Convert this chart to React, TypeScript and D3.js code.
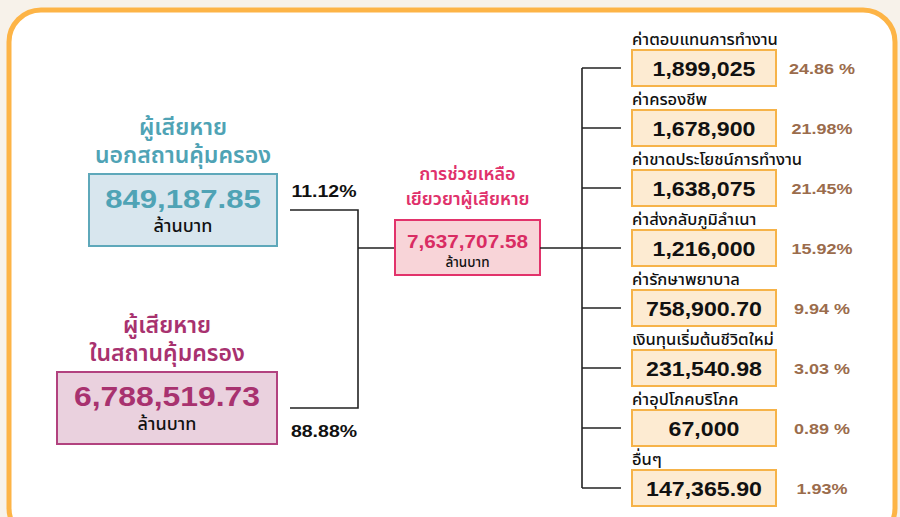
import React, { useEffect, useRef } from "react";
import * as d3 from "d3";

// source groups (left)
const sourceTitles = [["ผู้เสียหาย", "นอกสถานคุ้มครอง"], ["ผู้เสียหาย", "ในสถานคุ้มครอง"]];
const sourceValues = ["849,187.85", "6,788,519.73"];
const sourcePercents = ["11.12%", "88.88%"];

// total (middle)
const totalTitle = ["การช่วยเหลือ", "เยียวยาผู้เสียหาย"];
const totalValue = "7,637,707.58";
const unit = "ล้านบาท";

// expense items (right)
const itemLabels = [
  "ค่าตอบแทนการทำงาน",
  "ค่าครองชีพ",
  "ค่าขาดประโยชน์การทำงาน",
  "ค่าส่งกลับภูมิลำเนา",
  "ค่ารักษาพยาบาล",
  "เงินทุนเริ่มต้นชีวิตใหม่",
  "ค่าอุปโภคบริโภค",
  "อื่นๆ",
];
const itemValues = ["1,899,025", "1,678,900", "1,638,075", "1,216,000", "758,900.70", "231,540.98", "67,000", "147,365.90"];
const itemPercents = ["24.86 %", "21.98%", "21.45%", "15.92%", "9.94 %", "3.03 %", "0.89 %", "1.93%"];

const FONT = "'Liberation Sans', Arial, 'Noto Sans Thai', 'Noto Sans', sans-serif";

// wide numerals: stretch a text horizontally around its anchor
function wideText(parent: any, x: number, y: number, sx: number, size: number, color: string, str: string) {
  return parent.append("text")
    .attr("transform", `translate(${x},${y}) scale(${sx},1)`)
    .attr("text-anchor", "middle")
    .attr("font-family", FONT).attr("font-size", size).attr("font-weight", 700)
    .attr("fill", color).text(str);
}

export default function App() {
  const ref = useRef<SVGSVGElement>(null);

  useEffect(() => {
    const svg = d3.select(ref.current);
    svg.selectAll("*").remove();

    svg.append("rect").attr("width", 900).attr("height", 517).attr("fill", "#f7f2ea");
    svg.append("rect")
      .attr("x", 9).attr("y", 10).attr("width", 886).attr("height", 530).attr("rx", 32)
      .attr("fill", "#ffffff").attr("stroke", "#fdb446").attr("stroke-width", 5);

    // left sources
    const srcY = d3.scalePoint<number>().domain([0, 1]).range([210, 408]);
    const srcStyle = [
      { w: 188, fill: "#d8e6ee", stroke: "#5ea8ba", color: "#4fa3b5", size: 25.5, sx: 1.22 },
      { w: 220, fill: "#ead1de", stroke: "#b2427f", color: "#a8326f", size: 27.5, sx: 1.16 },
    ];
    const boxRight = 277;
    sourceValues.forEach((v, i) => {
      const st = srcStyle[i];
      const cy = srcY(i)!;
      const cx = boxRight - st.w / 2;
      const g = svg.append("g");
      g.append("rect").attr("x", boxRight - st.w).attr("y", cy - 36).attr("width", st.w).attr("height", 72)
        .attr("fill", st.fill).attr("stroke", st.stroke).attr("stroke-width", 2);
      sourceTitles[i].forEach((t, j) => {
        g.append("text").attr("x", cx).attr("y", cy - 75 + j * 28).attr("text-anchor", "middle")
          .attr("font-family", FONT).attr("font-size", 23).attr("font-weight", 600).attr("fill", st.color).text(t);
      });
      wideText(g, cx, cy - 2, st.sx, st.size, st.color, v);
      g.append("text").attr("x", cx).attr("y", cy + 22).attr("text-anchor", "middle")
        .attr("font-family", FONT).attr("font-size", 18).attr("font-weight", 500).attr("fill", "#111").text(unit);
    });

    // left connector
    const jx = 358;
    svg.append("path")
      .attr("d", `M290,${srcY(0)}H${jx}V${srcY(1)}H290 M${jx},248H395`)
      .attr("fill", "none").attr("stroke", "#222").attr("stroke-width", 1.6);
    sourcePercents.forEach((p, i) => {
      wideText(svg, 324, i === 0 ? srcY(0)! - 13 : srcY(1)! + 29, 1.22, 16, "#111", p);
    });

    // total box
    const tx = 467.5;
    svg.append("rect").attr("x", 395).attr("y", 220).attr("width", 145).attr("height", 55)
      .attr("fill", "#f8d4d8").attr("stroke", "#e2336b").attr("stroke-width", 2);
    totalTitle.forEach((t, j) => {
      svg.append("text").attr("x", tx).attr("y", 180 + j * 25).attr("text-anchor", "middle")
        .attr("font-family", FONT).attr("font-size", 18).attr("font-weight", 600).attr("fill", "#e0316b").text(t);
    });
    wideText(svg, tx, 248, 1.09, 19, "#d92c63", totalValue);
    svg.append("text").attr("x", tx).attr("y", 267).attr("text-anchor", "middle")
      .attr("font-family", FONT).attr("font-size", 13.5).attr("font-weight", 500).attr("fill", "#111").text(unit);

    // right items
    const y = d3.scalePoint<number>().domain(d3.range(itemLabels.length)).range([68, 488]);
    const bx = 582;
    svg.append("path")
      .attr("d", `M540,248H${bx} M${bx},${y(0)}V${y(itemLabels.length - 1)}`)
      .attr("fill", "none").attr("stroke", "#222").attr("stroke-width", 1.6);

    const rows = svg.append("g").selectAll("g").data(itemLabels).join("g")
      .attr("transform", (_, i) => `translate(0,${y(i)})`);
    rows.append("line").attr("x1", bx).attr("x2", 621).attr("stroke", "#222").attr("stroke-width", 1.6);
    rows.append("rect").attr("x", 632).attr("y", -18).attr("width", 144).attr("height", 36)
      .attr("fill", "#fdebd2").attr("stroke", "#f6b349").attr("stroke-width", 2);
    rows.append("text").attr("x", 632).attr("y", -23)
      .attr("font-family", FONT).attr("font-size", 16.5).attr("font-weight", 500).attr("fill", "#111").text((d) => d);
    rows.each(function (_, i) {
      const r = d3.select(this);
      wideText(r, 704, 7.5, 1.13, 20.5, "#111", itemValues[i]);
      wideText(r, 822, 5.5, 1.2, 15, "#9b6c4c", itemPercents[i]);
    });
  }, []);

  return (
    <svg ref={ref} width={900} height={517} style={{ position: "absolute", left: 0, top: 0 }} />
  );
}
